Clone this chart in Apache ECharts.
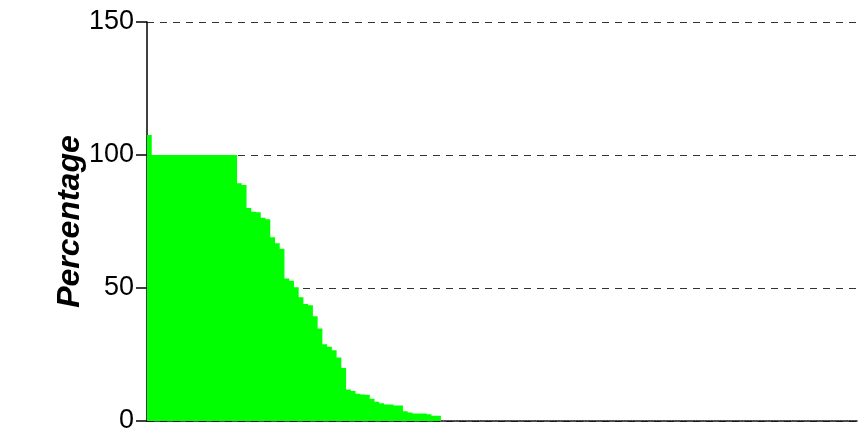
<!DOCTYPE html>
<html>
<head>
<meta charset="utf-8">
<script src="https://cdn.jsdelivr.net/npm/echarts@6/dist/echarts.min.js"></script>
<style>
  html, body { margin: 0; padding: 0; background: #fff; }
  #chart { width: 865px; height: 432px; }
</style>
</head>
<body>
<div id="chart"></div>
<script>
// 每一根柱子的百分比
const percentValues = [
  107.5, 100, 100, 100, 100, 100, 100, 100, 100, 100,
  100, 100, 100, 100, 100, 100, 100, 100, 100, 89.4,
  88.7, 80.1, 78.7, 78.5, 76.4, 75.8, 69.1, 66.8, 64.8, 53.6,
  52.7, 50.3, 46.5, 44.0, 43.5, 39.4, 34.8, 28.9, 27.9, 26.6,
  23.9, 19.9, 11.8, 11.3, 10.2, 10.0, 9.9, 8.4, 7.2, 6.7,
  6.2, 6.2, 5.8, 5.8, 3.7, 3.2, 2.8, 2.8, 2.8, 2.5,
  2.0, 2.0, 0, 0, 0, 0, 0, 0, 0, 0,
  0, 0, 0, 0, 0, 0, 0, 0, 0, 0,
  0, 0, 0, 0, 0, 0, 0, 0, 0, 0,
  0, 0, 0, 0, 0, 0, 0, 0, 0, 0,
  0, 0, 0, 0, 0, 0, 0, 0, 0, 0,
  0, 0, 0, 0, 0, 0, 0, 0, 0, 0,
  0, 0, 0, 0, 0, 0, 0, 0, 0, 0,
  0, 0, 0, 0, 0, 0, 0, 0, 0, 0,
  0, 0, 0, 0, 0, 0, 0, 0, 0, 0
]
const categories = percentValues.map((v, i) => String(i + 1))
const yTicks = [0, 50, 100, 150]

const chart = echarts.init(document.getElementById('chart'))

const options = {
  backgroundColor: '#fff',
  animation: false,
  grid: {
    left: 147,
    right: 7,
    top: 22,
    bottom: 11,
    containLabel: false,
    outerBoundsMode: 'none'
  },
  xAxis: {
    type: 'category',
    data: categories,
    boundaryGap: true,
    axisTick: { show: false },
    axisLabel: { show: false },
    splitLine: { show: false },
    axisLine: {
      show: true,
      lineStyle: { color: '#111', width: 1.5, type: [2, 1] }
    }
  },
  yAxis: {
    type: 'value',
    min: yTicks[0],
    max: yTicks[yTicks.length - 1],
    interval: 50,
    name: 'Percentage',
    nameLocation: 'middle',
    nameGap: 61,
    nameMoveOverlap: false,
    nameTextStyle: {
      fontFamily: 'Liberation Sans',
      fontSize: 32,
      fontWeight: 'bold',
      fontStyle: 'italic',
      color: '#000'
    },
    axisLine: {
      show: true,
      lineStyle: { color: '#000', width: 1.5 }
    },
    axisTick: {
      show: true,
      length: 11,
      lineStyle: { color: '#000', width: 1.5 }
    },
    axisLabel: {
      fontFamily: 'Liberation Sans',
      fontSize: 27,
      color: '#000',
      margin: 13
    },
    splitLine: {
      show: true,
      lineStyle: { color: '#333', width: 1, type: [7, 6] }
    }
  },
  series: [
    {
      type: 'bar',
      data: percentValues,
      barCategoryGap: 0,
      barGap: 0,
      large: true,
      largeThreshold: 10,
      itemStyle: { color: '#00ff00' },
      z: 1
    }
  ]
}

chart.setOption(options)
</script>
</body>
</html>
